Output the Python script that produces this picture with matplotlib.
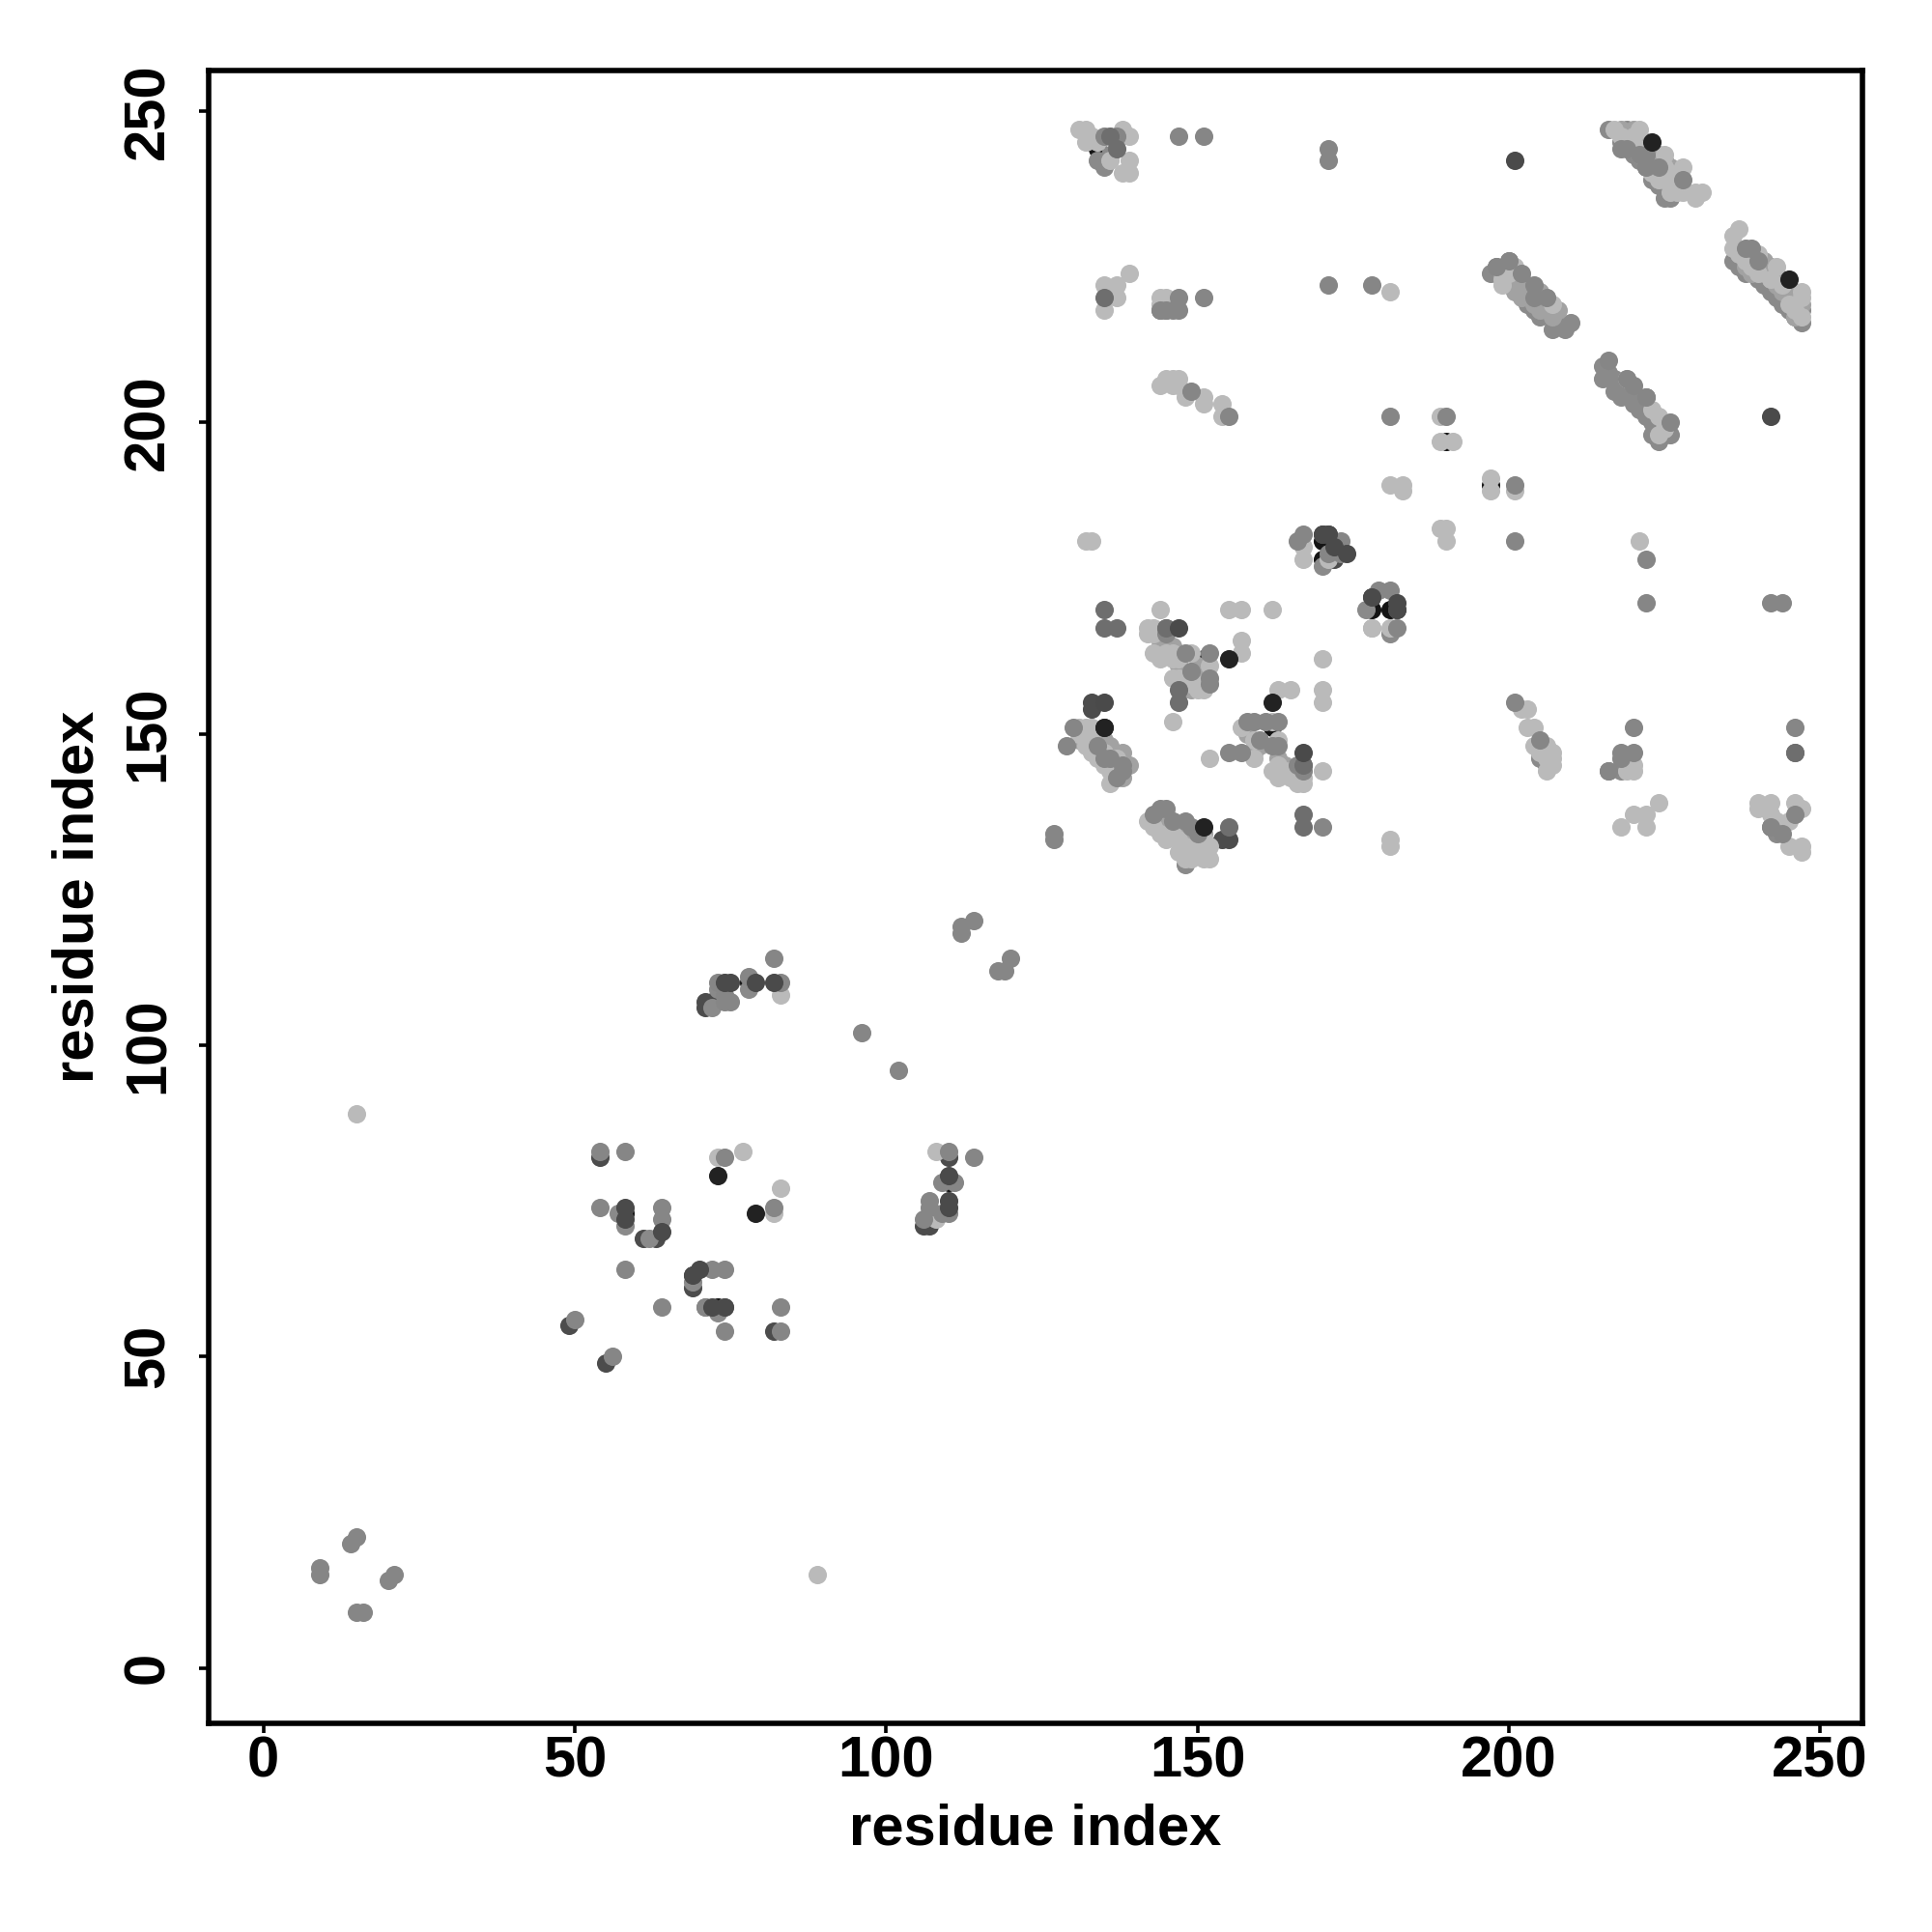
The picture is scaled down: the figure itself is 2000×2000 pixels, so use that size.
import matplotlib
matplotlib.use('Agg')
import matplotlib.pyplot as plt

# contacts, one pair of lists per grey level (residue i, residue j)
black_back_x = [134, 170, 170, 178, 181, 151, 162, 243, 190, 197, 78, 110, 58, 73]
black_back_y = [244, 181, 178, 170, 170, 162, 151, 135, 197, 190, 110, 78, 73, 58]

dark_back_x = [54, 110, 49, 55, 82, 71, 71, 72, 61, 63, 69, 69, 106, 107, 133, 133, 155, 154, 172, 170, 171, 182, 178]
dark_back_y = [82, 82, 55, 49, 54, 107, 106, 107, 69, 69, 63, 61, 71, 71, 155, 154, 133, 133, 178, 182, 182, 170, 172]

mid_back_x = [134, 135, 136, 144, 145, 216, 218, 219, 220, 221, 222, 223, 224, 225, 226, 219, 220, 221,
              197, 198, 199, 200, 201, 203, 204, 205, 206, 207, 208, 209, 210, 207, 203, 204, 205,
              215, 215, 216, 217, 218, 219, 220, 221, 222, 223, 224, 225, 226, 217, 218, 220, 222, 224, 223,
              236, 237, 238, 240, 241, 242, 243, 244, 245, 246, 247, 247, 243, 244,
              73, 78, 72, 58, 57, 62, 69, 71, 73, 206, 205, 242, 243,
              170, 177, 181, 216, 218, 148, 205]
mid_back_y = [242, 241, 243, 218, 218, 247, 245, 246, 243, 242, 241, 239, 238, 236, 236, 247, 244, 245,
              224, 225, 223, 226, 223, 221, 220, 219, 218, 217, 216, 215, 216, 215, 219, 218, 217,
              209, 207, 208, 205, 204, 205, 203, 202, 201, 200, 197, 198, 198, 207, 206, 205, 204, 199, 198,
              226, 225, 224, 223, 222, 221, 220, 219, 218, 217, 216, 218, 221, 220,
              109, 109, 106, 71, 73, 69, 62, 58, 57, 145, 146, 135, 134,
              177, 170, 166, 144, 144, 129, 147]

light_x = [131, 132, 133, 132, 138, 139, 136, 139, 138, 139, 134,
           139, 135, 137, 137, 135, 144, 145, 144,
           144, 145, 146, 147, 146, 147, 148, 151, 151, 154, 154, 181,
           217, 218, 221, 220, 219, 221, 225, 223, 224, 225, 225, 226, 226, 227, 227, 228, 226, 230, 230, 231, 228,
           189, 189, 191, 197, 197, 201, 189, 190, 190, 221, 178, 183, 183, 181,
           202, 203, 203, 204, 204, 206, 207, 207, 207, 206, 205, 206,
           219, 220, 220, 224, 220, 222, 218, 222,
           240, 242, 240, 246, 247, 243, 244, 245, 247, 247, 242, 245,
           236, 237, 236, 237, 238, 240, 239, 240, 243, 242, 244, 247, 247, 246, 247, 245,
           201, 199, 200, 199, 207, 206, 219, 223, 224, 225, 224, 225,
           132, 133, 167, 171, 178, 181, 144, 155, 157, 162, 142, 143, 142, 143, 143, 144, 145, 146, 146, 147,
           149, 152, 157, 157, 146, 147, 149, 150, 151, 151, 146, 170, 170, 170, 163, 165, 157, 162, 163, 159, 159,
           152, 162, 163, 163, 164, 165, 166, 167, 170, 167, 166, 165, 181, 181,
           131, 132, 133, 133, 131, 132, 132, 133, 134, 134, 135, 135, 136, 136, 137, 137, 137, 136, 138,
           142, 143, 144, 145, 146, 147, 147, 148, 149, 149, 150, 151, 151, 151, 152, 152, 148,
           108, 73, 77, 83, 82, 83, 107, 108, 15, 89, 167]
light_y = [247, 247, 246, 245, 247, 246, 242, 242, 240, 240, 245,
           224, 222, 222, 220, 218, 220, 220, 219,
           206, 207, 207, 207, 206, 206, 204, 204, 203, 203, 201, 221,
           247, 246, 247, 246, 245, 244, 243, 240, 239, 241, 239, 240, 238, 239, 237, 237, 237, 236, 237, 237, 241,
           201, 197, 197, 191, 189, 189, 183, 183, 181, 181, 167, 190, 189, 190,
           154, 154, 151, 151, 148, 148, 147, 146, 145, 144, 147, 146,
           144, 144, 145, 139, 137, 137, 135, 135,
           139, 139, 138, 139, 138, 136, 135, 132, 132, 131, 137, 136,
           230, 231, 228, 227, 226, 227, 225, 224, 225, 223, 222, 221, 220, 218, 217, 219,
           225, 223, 224, 222, 219, 220, 207, 202, 201, 199, 198, 200,
           181, 181, 178, 178, 167, 167, 170, 170, 170, 170, 167, 167, 166, 166, 163, 162, 163, 163, 162, 162,
           163, 161, 165, 163, 159, 159, 158, 157, 157, 158, 152, 157, 155, 162, 157, 157, 151, 152, 149, 149, 146,
           146, 144, 143, 145, 144, 143, 143, 142, 144, 143, 142, 144, 133, 132,
           151, 151, 151, 149, 150, 149, 148, 147, 148, 146, 147, 145, 146, 144, 146, 145, 143, 142, 145,
           136, 135, 134, 133, 134, 133, 131, 132, 131, 130, 132, 131, 133, 130, 132, 130, 130,
           83, 82, 83, 77, 73, 108, 73, 72, 89, 15, 180]

# the in-between grey that fills the dense diagonal bands
pale_x = [218, 219, 220, 220, 221, 222, 222, 223, 223, 224, 224, 225, 226, 225, 226, 221, 227,
          238, 239, 240, 241, 241, 242, 243, 243, 244, 245, 245, 246, 246, 246, 247, 244, 242, 246,
          199, 200, 201, 200, 202, 201, 203, 202, 204, 205, 207, 208, 205, 207, 204,
          131, 132, 133, 134, 134, 135, 135, 136, 137, 138, 139, 138, 137, 136,
          145, 146, 147, 148, 149, 150, 145, 146, 147, 148, 149, 150, 151,
          144, 145, 144, 146, 147, 148, 150, 150, 148, 149,
          158, 159, 160, 163, 163, 164, 165, 166, 166]
pale_y = [247, 246, 247, 245, 246, 245, 243, 244, 242, 243, 241, 242, 241, 240, 239, 243, 240,
          225, 224, 225, 224, 226, 223, 222, 223, 221, 221, 220, 220, 221, 219, 219, 223, 225, 217,
          224, 223, 224, 222, 223, 221, 222, 220, 221, 221, 218, 218, 218, 217, 219,
          149, 150, 150, 150, 148, 149, 147, 148, 146, 147, 145, 143, 144, 145,
          137, 136, 135, 134, 134, 133, 135, 134, 133, 132, 132, 131, 134,
          165, 165, 164, 164, 161, 160, 161, 159, 159, 157,
          150, 147, 148, 146, 144, 145, 144, 143, 144]

mid_front_x = [147, 151, 171, 171, 135, 137, 147, 151, 144, 145, 146, 147, 171, 178, 149, 155, 181,
               218, 219, 221, 222, 228, 222, 224,
               216, 219, 220, 222, 226, 198, 200, 202, 204, 204, 206,
               238, 239, 240, 190, 201, 201, 222, 222, 242, 244, 201, 205, 220, 218, 220, 216, 218,
               246, 246, 246, 244, 242,
               127, 127, 166, 167, 173, 173, 171, 179, 181, 182, 145, 145, 148, 152, 149, 152, 152,
               158, 159, 161, 163, 160, 155, 157, 162, 163, 166, 167, 167, 170,
               129, 130, 138, 138, 137, 135, 134, 136, 144, 145, 143, 146, 149, 150, 148,
               82, 120, 118, 119, 112, 112, 114, 73, 74, 74, 75, 78, 83, 96, 102,
               54, 58, 74, 82, 54, 64, 64, 58, 72, 74, 64, 71, 74, 83, 74, 83, 50, 56,
               110, 114, 109, 111, 107, 107, 109, 110, 106,
               9, 9, 14, 15, 15, 16, 20, 21]
mid_front_y = [246, 246, 244, 242, 246, 246, 220, 220, 218, 218, 218, 218, 222, 222, 205, 201, 201,
               244, 244, 243, 241, 239, 243, 241,
               210, 207, 206, 204, 200, 225, 226, 224, 222, 220, 220,
               228, 228, 226, 201, 190, 181, 178, 171, 171, 171, 155, 149, 151, 147, 147, 144, 146,
               151, 147, 137, 134, 135,
               134, 133, 181, 182, 181, 179, 179, 173, 173, 167, 167, 166, 163, 163, 160, 159, 158,
               152, 152, 152, 152, 149, 147, 147, 148, 148, 145, 145, 144, 135,
               148, 151, 145, 144, 143, 146, 148, 146, 138, 138, 137, 136, 135, 134, 136,
               114, 114, 112, 112, 119, 118, 120, 110, 107, 108, 107, 111, 110, 102, 96,
               83, 83, 82, 74, 74, 74, 72, 64, 64, 64, 58, 58, 54, 58, 58, 54, 56, 50,
               83, 82, 78, 78, 75, 74, 73, 73, 72,
               16, 15, 20, 21, 9, 9, 14, 15]

dim_x = [135, 135, 137, 136, 137, 135, 147, 147, 167, 167, 155, 246, 145, 167]
dim_y = [170, 167, 167, 246, 244, 220, 157, 155, 137, 135, 135, 147, 167, 145]

dark_front_x = [201, 242, 147, 167, 170, 171, 172, 178, 182, 182, 135, 135, 174,
                74, 75, 79, 82, 58, 58, 64, 70, 69, 72, 74, 110, 110, 110]
dark_front_y = [242, 201, 167, 147, 182, 182, 180, 172, 171, 170, 151, 155, 179,
                110, 110, 110, 110, 74, 72, 70, 64, 63, 58, 58, 75, 74, 79]

black_front_x = [223, 245, 155, 162, 151, 135, 73, 79]
black_front_y = [245, 223, 162, 155, 135, 151, 79, 73]

# drawing order and grey of each level
layers = [(black_back_x, black_back_y, '#141414'),
          (dark_back_x, dark_back_y, '#4c4c4c'),
          (mid_back_x, mid_back_y, '#8a8a8a'),
          (pale_x, pale_y, '#a2a2a2'),
          (light_x, light_y, '#bababa'),
          (mid_front_x, mid_front_y, '#868686'),
          (dim_x, dim_y, '#6e6e6e'),
          (dark_front_x, dark_front_y, '#4a4a4a'),
          (black_front_x, black_front_y, '#222222')]

ticks = [0, 50, 100, 150, 200, 250]

plt.rcParams['font.family'] = ['Liberation Sans', 'DejaVu Sans']
plt.rcParams['font.weight'] = 'bold'

fig = plt.figure(figsize=(10, 10), dpi=200)
ax = fig.add_axes([0.108, 0.108, 0.856, 0.8555])

for xs, ys, cor in layers:
    ax.scatter(xs, ys, s=47, c=cor, linewidths=0, zorder=3)

ax.set_xlim(-8.8, 256.8)
ax.set_ylim(-8.9, 256.5)
ax.set_xticks(ticks)
ax.set_yticks(ticks)
ax.tick_params(axis='both', length=3.5, width=1.3, labelsize=21.5)
ax.tick_params(axis='x', pad=1)
ax.tick_params(axis='y', pad=9)
for lab in ax.get_yticklabels():
    lab.set_rotation(90)
    lab.set_va('center')
for s in ax.spines.values():
    s.set_linewidth(2)

ax.set_xlabel('residue index', fontsize=21.5, fontweight='bold', labelpad=5.5)
ax.set_ylabel('residue index', fontsize=21.5, fontweight='bold', labelpad=6.5)

fig.savefig('out.png', dpi=200)
plt.close(fig)
